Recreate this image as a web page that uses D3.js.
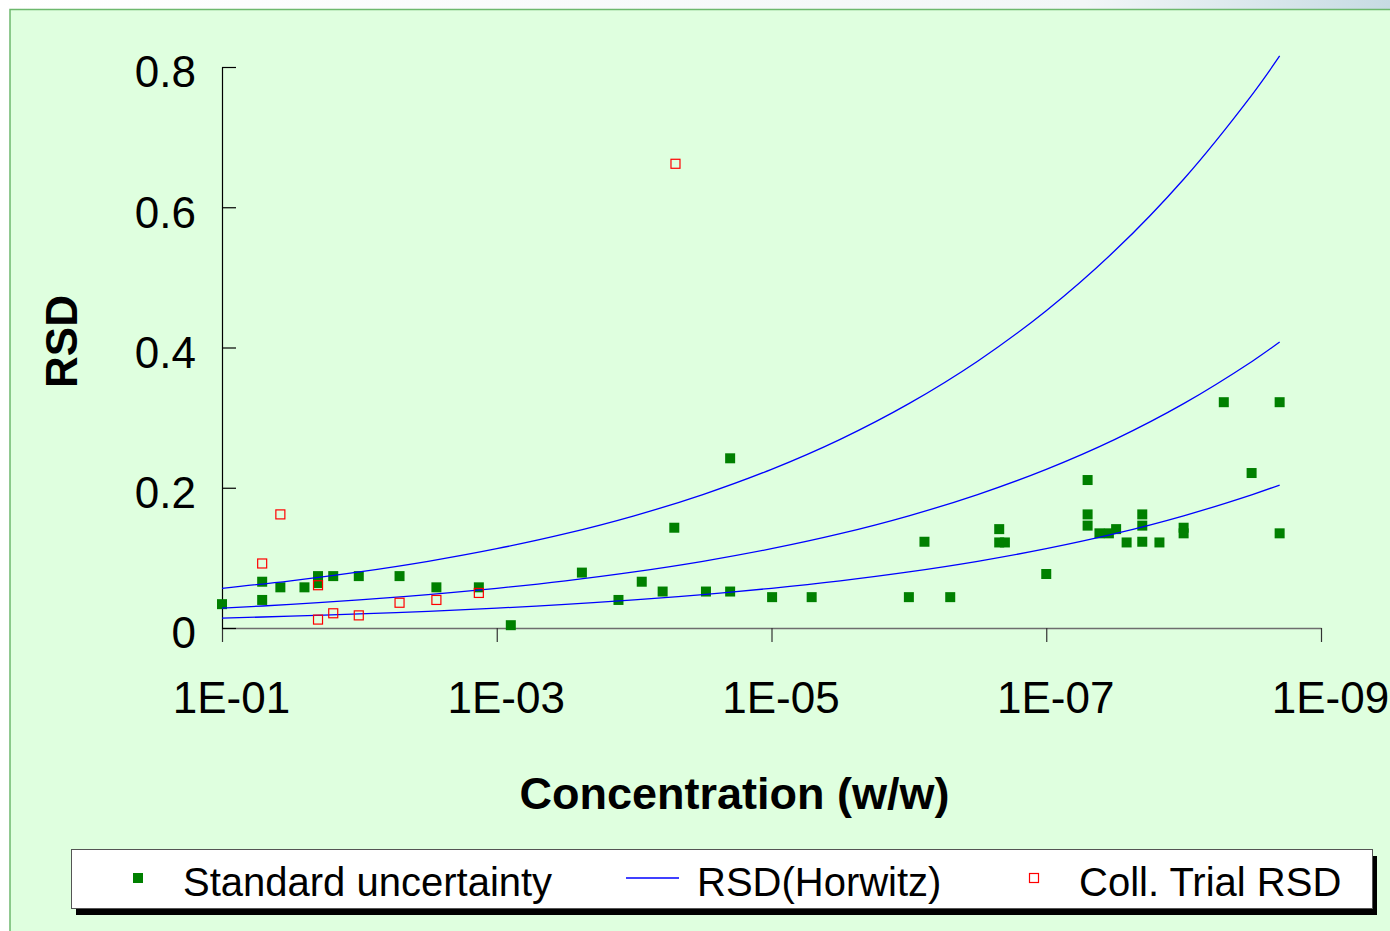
<!DOCTYPE html>
<html>
<head>
<meta charset="utf-8">
<script src="https://cdn.jsdelivr.net/npm/d3@7"></script>
<style>
  html, body { margin: 0; padding: 0; background: #ffffff; }
  svg { display: block; }
  text { font-family: "Liberation Sans", Arial, sans-serif; }
</style>
</head>
<body>
<svg id="chart" width="1390" height="931"></svg>
<script>
// ---------------- data ----------------
// Standard uncertainty (green filled squares): concentration (w/w), RSD
const stdConc = [0.1, 0.051, 0.051, 0.0376, 0.0251, 0.020, 0.020, 0.0155, 0.0101, 0.0051,
  0.00275, 0.00135, 0.00079, 0.00024, 0.00013, 8.8e-5, 6.2e-5, 5.1e-5, 3.0e-5, 2.0e-5,
  2.0e-5, 9.9e-6, 5.1e-6, 1.0e-6, 7.7e-7, 5.0e-7, 2.2e-7, 2.2e-7, 2.0e-7, 1.0e-7,
  5.0e-8, 5.0e-8, 5.0e-8, 4.1e-8, 3.5e-8, 3.1e-8, 2.6e-8, 2.0e-8, 2.0e-8, 2.0e-8,
  1.5e-8, 1.0e-8, 1.0e-8, 5.1e-9, 3.2e-9, 2.0e-9, 2.0e-9];
const stdRSD = [0.034, 0.066, 0.040, 0.058, 0.058, 0.074, 0.064, 0.074, 0.074, 0.074,
  0.058, 0.058, 0.004, 0.079, 0.040, 0.066, 0.052, 0.143, 0.052, 0.242,
  0.052, 0.044, 0.044, 0.044, 0.123, 0.044, 0.141, 0.122, 0.122, 0.077,
  0.211, 0.162, 0.146, 0.135, 0.135, 0.141, 0.122, 0.162, 0.146, 0.123,
  0.122, 0.143, 0.135, 0.322, 0.221, 0.322, 0.135];

// Coll. Trial RSD (red hollow squares)
const collConc = [0.051, 0.0376, 0.020, 0.020, 0.0155, 0.0101, 0.0051, 0.00275, 0.00135, 5.0e-5];
const collRSD  = [0.092, 0.162, 0.061, 0.012, 0.021, 0.018, 0.036, 0.040, 0.050, 0.662];

// RSD(Horwitz) curves: half, one and two times the Horwitz value
const horConc = [1e-1, 3.16e-2, 1e-2, 3.16e-3, 1e-3, 3.16e-4, 1e-4, 3.16e-5, 1e-5,
  3.16e-6, 1e-6, 3.16e-7, 1e-7, 3.16e-8, 1e-8, 3.16e-9, 2e-9];
const horLow  = [0.0141, 0.0168, 0.0200, 0.0238, 0.0283, 0.0336, 0.0400, 0.0476, 0.0566,
  0.0673, 0.0800, 0.0951, 0.1131, 0.1345, 0.1600, 0.1903, 0.2039];
const horMid  = [0.0283, 0.0336, 0.0400, 0.0476, 0.0566, 0.0673, 0.0800, 0.0951, 0.1131,
  0.1345, 0.1600, 0.1903, 0.2263, 0.2691, 0.3200, 0.3805, 0.4078];
const horHigh = [0.0566, 0.0673, 0.0800, 0.0951, 0.1131, 0.1345, 0.1600, 0.1903, 0.2263,
  0.2691, 0.3200, 0.3805, 0.4525, 0.5382, 0.6400, 0.7611, 0.8157];

// ticks
const xTickValues = [1e-1, 1e-3, 1e-5, 1e-7, 1e-9];
const xTickLabels = ["1E-01", "1E-03", "1E-05", "1E-07", "1E-09"];
const yTickValues = [0, 0.2, 0.4, 0.6, 0.8];
const yTickLabels = ["0", "0.2", "0.4", "0.6", "0.8"];

const legendLabels = ["Standard uncertainty", "RSD(Horwitz)", "Coll. Trial RSD"];

// ---------------- drawing ----------------
const svg = d3.select("#chart");
const defs = svg.append("defs");
const grad = defs.append("linearGradient").attr("id", "topgrad")
  .attr("x1", "0%").attr("x2", "100%").attr("y1", "0%").attr("y2", "0%");
grad.append("stop").attr("offset", "0%").attr("stop-color", "#ffffff");
grad.append("stop").attr("offset", "78%").attr("stop-color", "#f2f6f7");
grad.append("stop").attr("offset", "100%").attr("stop-color", "#c7dbe3");

svg.append("rect").attr("x", 0).attr("y", 0).attr("width", 1390).attr("height", 10)
  .attr("fill", "url(#topgrad)");
svg.append("rect").attr("x", 10).attr("y", 9.5).attr("width", 1390).attr("height", 940)
  .attr("fill", "#dfffdf").attr("stroke", "#6db86d").attr("stroke-width", 1.5);

const x = d3.scaleLog().domain([1e-1, 1e-9]).range([222, 1321]);
const y = d3.scaleLinear().domain([0, 0.8]).range([628, 67]);

// X axis
const xAxis = svg.append("g").attr("transform", "translate(0,628)")
  .call(d3.axisBottom(x).tickValues(xTickValues).tickSizeInner(14).tickSizeOuter(0)
    .tickFormat((d, i) => xTickLabels[i]));
xAxis.select(".domain").attr("stroke", "#6e6e6e").attr("stroke-width", 1.5);
xAxis.selectAll(".tick line").attr("stroke", "#333").attr("stroke-width", 1.2);
xAxis.selectAll(".tick text").attr("x", 9).attr("y", 54).attr("dy", "0.71em")
  .attr("font-size", 44).attr("fill", "#000").attr("dy", null)
  .attr("y", 85);

// Y axis (ticks inside)
const yAxis = svg.append("g").attr("transform", "translate(222,0)")
  .call(d3.axisLeft(y).tickValues(yTickValues).tickSizeInner(-14).tickSizeOuter(0)
    .tickPadding(26).tickFormat((d, i) => yTickLabels[i]));
yAxis.select(".domain").attr("stroke", "#000").attr("stroke-width", 1.2);
yAxis.selectAll(".tick line").attr("stroke", "#000").attr("stroke-width", 1.2);
yAxis.selectAll(".tick text").attr("font-size", 44).attr("fill", "#000").attr("dy", "0.45em");

// Axis titles
svg.append("text").attr("x", 734.5).attr("y", 809).attr("text-anchor", "middle")
  .attr("font-size", 45).attr("font-weight", "bold").text("Concentration (w/w)");
svg.append("text").attr("transform", "translate(77,341.5) rotate(-90)")
  .attr("text-anchor", "middle").attr("font-size", 44).attr("font-weight", "bold").text("RSD");

// Standard uncertainty markers
const stdData = stdConc.map((c, i) => ({ c, v: stdRSD[i] }));
svg.append("g").selectAll("rect").data(stdData).join("rect")
  .attr("x", d => x(d.c) - 5).attr("y", d => y(d.v) - 5)
  .attr("width", 10).attr("height", 10).attr("fill", "#008000");

// Horwitz curves
const line = d3.line().x(d => x(d.c)).y(d => y(d.v)).curve(d3.curveCatmullRom);
[horLow, horMid, horHigh].forEach(series => {
  const pts = horConc.map((c, i) => ({ c, v: series[i] }));
  svg.append("path").datum(pts).attr("d", line)
    .attr("fill", "none").attr("stroke", "#0000ff").attr("stroke-width", 1.3);
});

// Coll. Trial markers
const collData = collConc.map((c, i) => ({ c, v: collRSD[i] }));
svg.append("g").selectAll("rect").data(collData).join("rect")
  .attr("x", d => x(d.c) - 4.5).attr("y", d => y(d.v) - 4.5)
  .attr("width", 9).attr("height", 9)
  .attr("fill", "none").attr("stroke", "#ff0000").attr("stroke-width", 1.2);

// Legend
const lg = svg.append("g");
lg.append("rect").attr("x", 76).attr("y", 856).attr("width", 1301).attr("height", 59).attr("fill", "#000");
lg.append("rect").attr("x", 71.5).attr("y", 849.5).attr("width", 1301).attr("height", 59)
  .attr("fill", "#ffffff").attr("stroke", "#555").attr("stroke-width", 1);
lg.append("rect").attr("x", 133).attr("y", 873).attr("width", 10).attr("height", 10).attr("fill", "#008000");
lg.append("line").attr("x1", 626).attr("x2", 679).attr("y1", 878).attr("y2", 878)
  .attr("stroke", "#0000ff").attr("stroke-width", 1.3);
lg.append("rect").attr("x", 1029.5).attr("y", 873.5).attr("width", 9).attr("height", 9)
  .attr("fill", "none").attr("stroke", "#ff0000").attr("stroke-width", 1.2);
const lgX = [183, 697, 1079];
legendLabels.forEach((t, i) => {
  lg.append("text").attr("x", lgX[i]).attr("y", 896).attr("font-size", 40).attr("fill", "#000").text(t);
});
</script>
</body>
</html>
